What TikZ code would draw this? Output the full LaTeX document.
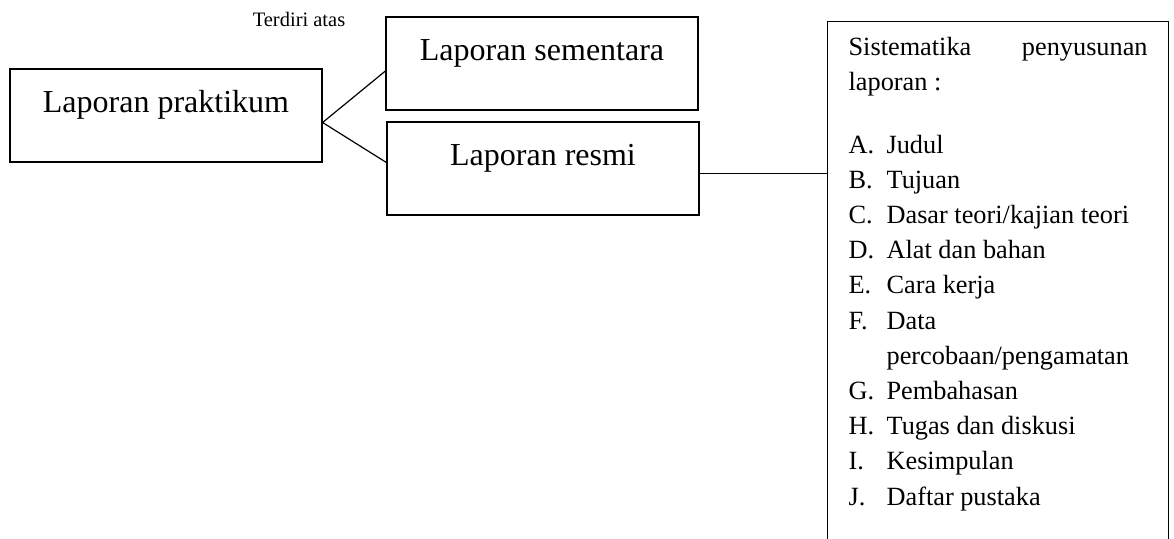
\documentclass[tikz,border=0pt]{standalone}
\usepackage{fontspec}
\setmainfont{Liberation Serif}
\usetikzlibrary{positioning}

\begin{document}
\begin{tikzpicture}[x=1pt,y=-1pt,line width=1.2pt,
	kotak/.style={draw,inner sep=0pt,minimum width=312pt,text height=43pt,text depth=50pt,font=\fontsize{32}{38}\selectfont},
	isi/.style={anchor=base west,inner sep=0pt,font=\fontsize{26.3}{32}\selectfont},
	kecil/.style={anchor=base,inner sep=0pt,font=\fontsize{20.5}{24}\selectfont}]
	\useasboundingbox (0,0) rectangle (1174,538);
	\node[name=LP,kotak,anchor=base] at (166,112) {Laporan praktikum};
	\node[name=LS,kotak,anchor=base] at (542,60) {Laporan sementara};
	\node[name=LR,kotak,anchor=base] at (543,165) {Laporan resmi};
	\node[name=TA,kecil] at (299,27) {Terdiri atas};
	\draw ([yshift=-7pt]LP.east) coordinate (C) -- ([yshift=-7.5pt]LS.west) (C) -- ([yshift=6pt]LR.west);
	\node[name=SP,draw,inner sep=0pt,minimum width=341pt,minimum height=540pt,anchor=north west] at (827,21) {};
	\coordinate (R) at ([yshift=-5pt]LR.east);
	\draw (R) -- (R -| SP.west);
	% isi kotak sistematika
	\node[name=S1,isi] at (848,55) {\makebox[299pt][l]{Sistematika\hfill penyusunan}};
	\node[name=S2,isi] at (848,90) {laporan :};
	\node[name=A,isi] at (848,153) {\makebox[38pt][l]{A.}Judul};
	\node[name=B,isi] at (848,188.2) {\makebox[38pt][l]{B.}Tujuan};
	\node[name=C1,isi] at (848,223.4) {\makebox[38pt][l]{C.}Dasar teori/kajian teori};
	\node[name=D,isi] at (848,258.6) {\makebox[38pt][l]{D.}Alat dan bahan};
	\node[name=E,isi] at (848,293.8) {\makebox[38pt][l]{E.}Cara kerja};
	\node[name=F,isi] at (848,329) {\makebox[38pt][l]{F.}Data};
	\node[name=F2,isi] at (886,364.2) {percobaan/pengamatan};
	\node[name=G,isi] at (848,399.4) {\makebox[38pt][l]{G.}Pembahasan};
	\node[name=H,isi] at (848,434.6) {\makebox[38pt][l]{H.}Tugas dan diskusi};
	\node[name=I,isi] at (848,469.8) {\makebox[38pt][l]{I.}Kesimpulan};
	\node[name=J,isi] at (848,505) {\makebox[38pt][l]{J.}Daftar pustaka};
\end{tikzpicture}
\end{document}
